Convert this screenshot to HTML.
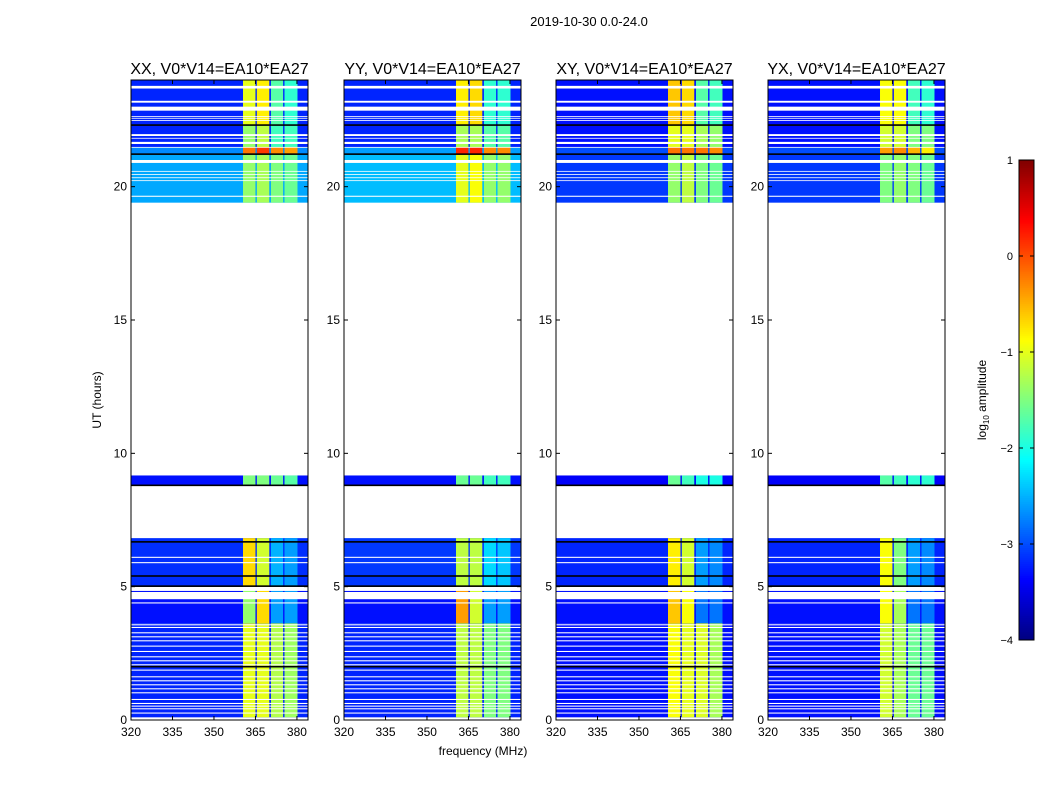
<!DOCTYPE html>
<html><head><meta charset="utf-8">
<style>
body{margin:0;background:#fff;}
svg text{font-family:"Liberation Sans","DejaVu Sans",sans-serif;fill:#000;}
</style></head>
<body>
<svg id="chart" width="1050" height="800" viewBox="0 0 1050 800" xmlns="http://www.w3.org/2000/svg">
<rect width="1050" height="800" fill="#fff"/>
<text x="589" y="26" font-size="13" text-anchor="middle">2019-10-30 0.0-24.0</text>
<text x="483" y="755" font-size="12" text-anchor="middle">frequency (MHz)</text>
<text x="0" y="0" font-size="12" text-anchor="middle" transform="translate(101,400) rotate(-90)">UT (hours)</text>
<g id="panels"></g>
<g id="cbar"></g>
</svg>
<script>
// ---- data ----
const polTitles = ["XX, V0*V14=EA10*EA27","YY, V0*V14=EA10*EA27","XY, V0*V14=EA10*EA27","YX, V0*V14=EA10*EA27"];
const xTicks = [320,335,350,365,380];
const yTicks = [0,5,10,15,20];
const cbTicks = [1,0,-1,-2,-3,-4];
// time segments [start hour, end hour]
const segStarts = [0.1, 3.63, 4.95, 8.8, 19.4, 21.22, 21.47, 22.31];
const segEnds   = [3.63, 4.95, 6.82, 9.17, 21.22, 21.47, 22.31, 24.0];
// frequency bands (MHz): bg, b1..b4
const bandStarts = [320, 360.5, 365.5, 370.6, 375.5];
const bandEnds   = [384, 365.0, 370.0, 375.0, 380.2];
// log10 amplitude per segment [bg,b1,b2,b3,b4]
const levelsXX = [[-3.2,-1.0,-1.0,-1.25,-1.35],[-3.3,-1.4,-0.7,-2.6,-2.6],[-3.15,-0.7,-1.1,-2.5,-2.6],[-3.3,-1.5,-1.5,-1.6,-1.7],[-2.55,-1.4,-1.3,-1.5,-1.6],[-2.7,-0.2,0.1,-0.3,-0.4],[-3.2,-1.4,-1.2,-1.8,-1.8],[-3.2,-1.0,-0.8,-1.7,-1.9]];
const levelsYY = [[-3.2,-1.2,-1.2,-1.5,-1.5],[-3.3,-0.4,-1.1,-2.6,-2.6],[-3.1,-1.2,-1.2,-2.3,-2.4],[-3.3,-1.6,-1.6,-1.8,-1.8],[-2.45,-1.0,-0.9,-1.4,-1.4],[-2.6,0.2,0.2,-0.3,-0.3],[-3.2,-1.3,-1.3,-1.7,-1.7],[-3.2,-0.8,-0.7,-1.9,-1.9]];
const levelsXY = [[-3.3,-0.9,-1.0,-1.05,-1.3],[-3.3,-0.6,-0.9,-2.8,-2.8],[-3.2,-0.8,-1.1,-2.6,-2.7],[-3.4,-1.6,-1.8,-2.0,-2.0],[-3.1,-1.4,-1.2,-1.5,-1.6],[-3.0,-0.2,-0.2,-0.2,-0.3],[-3.3,-1.0,-1.0,-1.3,-1.4],[-3.3,-0.6,-0.7,-1.7,-1.8]];
const levelsYX = [[-3.3,-1.1,-1.3,-1.6,-1.6],[-3.3,-0.9,-1.3,-2.8,-2.8],[-3.2,-0.9,-1.5,-2.6,-2.7],[-3.4,-1.7,-1.8,-1.9,-1.9],[-3.1,-1.5,-1.4,-1.5,-1.6],[-3.0,-0.4,-0.3,-0.5,-0.8],[-3.3,-1.1,-1.1,-1.5,-1.5],[-3.3,-0.9,-0.9,-1.8,-1.9]];
// flagged (blank) time ranges [start,end]
const flagStarts = [0.24,0.4,0.5,0.6,0.75,1.0,1.15,1.3,1.45,1.6,1.85,2.05,2.2,2.35,2.55,2.75,2.95,3.1,3.25,3.45,3.55,4.37,4.53,4.84,5.88,6.08,19.62,20.21,20.32,20.44,20.56,20.89,21.46,21.6,21.8,21.9,22.47,22.55,22.62,22.85,23.15,23.68,24.5];
const flagEnds   = [0.28,0.44,0.54,0.64,0.79,1.04,1.19,1.34,1.49,1.64,1.89,2.09,2.24,2.39,2.59,2.79,2.99,3.14,3.29,3.49,3.59,4.41,4.8,4.99,5.92,6.12,19.66,20.24,20.35,20.47,20.59,21.0,21.49,21.68,21.83,21.97,22.5,22.58,22.65,23.0,23.22,23.78,24.6];
// black separator lines (hours)
const blackLines = [2.0,5.02,5.4,6.68,8.8,21.22,22.31];
const allLevels = [levelsXX,levelsYY,levelsXY,levelsYX];

// ---- helpers ----
const NS="http://www.w3.org/2000/svg";
function jet(v){ // v in [-4,1]
  let t=Math.max(0,Math.min(1,(v+4)/5));
  const r=Math.max(0,Math.min(1,1.5-Math.abs(4*t-3)));
  const g=Math.max(0,Math.min(1,1.5-Math.abs(4*t-2)));
  const b=Math.max(0,Math.min(1,1.5-Math.abs(4*t-1)));
  return `rgb(${Math.round(r*255)},${Math.round(g*255)},${Math.round(b*255)})`;
}
function mk(tag,attrs,parent){const e=document.createElementNS(NS,tag);for(const k in attrs)e.setAttribute(k,attrs[k]);parent.appendChild(e);return e;}
const panelX=[131,344,556,768], PW=177, PT=80, PB=720;
const yS=h=>PB-h*(PB-PT)/24;
const panelsG=document.getElementById('panels');

for(let p=0;p<4;p++){
  const x0=panelX[p];
  const xS=f=>x0+(f-320)*PW/64;
  const g=mk('g',{},panelsG);
  
  
  const lv=allLevels[p];
  for(let s=0;s<segStarts.length;s++){
    for(let b=0;b<bandStarts.length;b++){
      const r=mk('rect',{x:xS(bandStarts[b]),y:yS(segEnds[s]),width:xS(bandEnds[b])-xS(bandStarts[b]),height:yS(segStarts[s])-yS(segEnds[s]),fill:jet(lv[s][b])},g);
      
      
    }
  }
  for(let i=0;i<flagStarts.length;i++){
    const r=mk('rect',{x:x0,y:yS(flagEnds[i]),width:PW,height:yS(flagStarts[i])-yS(flagEnds[i]),fill:'#fff'},g);
    
    
  }
  for(const h of blackLines){
    const r=mk('rect',{x:x0,y:yS(h)-0.8,width:PW,height:1.6,fill:'#000'},g);
    
    
  }
  const fr=mk('rect',{x:x0,y:PT,width:PW,height:PB-PT,fill:'none',stroke:'#000','stroke-width':1},g);
  
  
  for(const t of xTicks){
    const x=xS(t);
    mk('line',{x1:x,x2:x,y1:PB,y2:PB-4,stroke:'#000'},g);
    mk('line',{x1:x,x2:x,y1:PT,y2:PT+4,stroke:'#000'},g);
    const tx=mk('text',{x:x,y:PB+16,'font-size':12,'text-anchor':'middle'},g);
    tx.textContent=t;
    
    
  }
  for(const t of yTicks){
    const y=yS(t);
    mk('line',{x1:x0,x2:x0+4,y1:y,y2:y,stroke:'#000'},g);
    mk('line',{x1:x0+PW,x2:x0+PW-4,y1:y,y2:y,stroke:'#000'},g);
    const tx=mk('text',{x:x0-4,y:y+4,'font-size':12,'text-anchor':'end'},g);
    tx.textContent=t;
    
    
  }
  const tt=mk('text',{x:x0+PW/2,y:74,'font-size':16,'text-anchor':'middle'},g);
  tt.textContent=polTitles[p];
  
  
}

// colorbar
const cb=document.getElementById('cbar');
const cbX=1019,cbW=15,cbT=160,cbB=640;
const cS=v=>cbB-(v+4)*(cbB-cbT)/5;
for(let i=0;i<240;i++){
  const v=-4+5*(i+0.5)/240;
  mk('rect',{x:cbX,y:cS(v)-1.2,width:cbW,height:2.4,fill:jet(v)},cb);
}
mk('rect',{x:cbX,y:cbT,width:cbW,height:cbB-cbT,fill:'none',stroke:'#000'},cb);
for(const t of cbTicks){
  const y=cS(t);
  mk('line',{x1:cbX,x2:cbX+4,y1:y,y2:y,stroke:'#000'},cb);
  mk('line',{x1:cbX+cbW,x2:cbX+cbW-4,y1:y,y2:y,stroke:'#000'},cb);
  const tx=mk('text',{x:1013,y:y+4,'font-size':11,'text-anchor':'end'},cb);
  tx.textContent=(t<0?'\u2212':'')+Math.abs(t);
  
  
}
const cl=mk('text',{x:0,y:0,'font-size':12,'text-anchor':'middle',transform:'translate(986,400) rotate(-90)'},cb);
cl.innerHTML='log<tspan font-size="8" dy="3">10</tspan><tspan dy="-3"> amplitude</tspan>';


</script>
</body></html>
